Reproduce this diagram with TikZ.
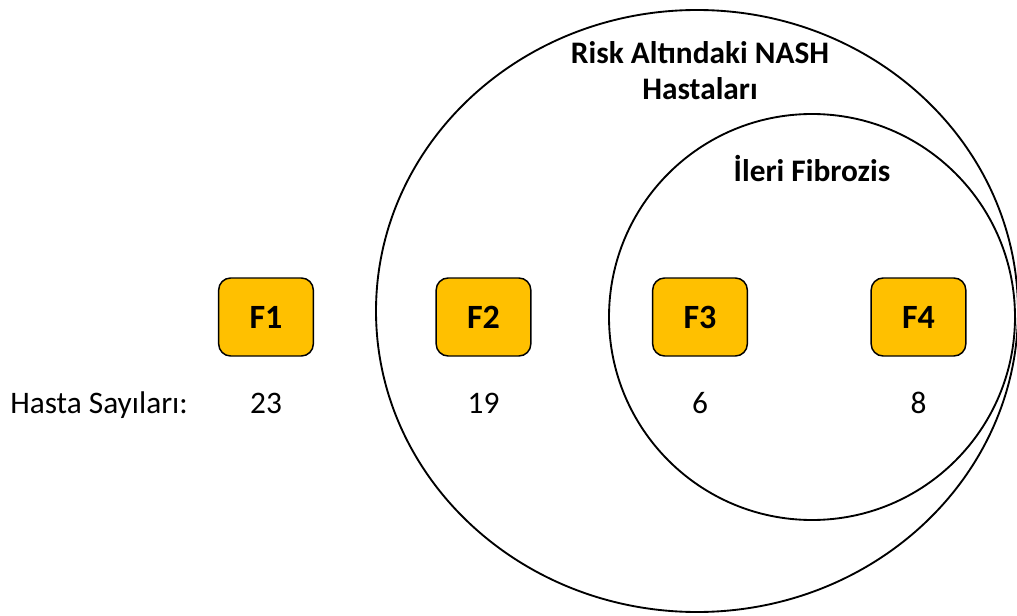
\documentclass[tikz,border=0pt]{standalone}
\usepackage{fontspec}
\setmainfont{Carlito}
\definecolor{fbox}{HTML}{FFC000}
\begin{document}
\begin{tikzpicture}[x=0.75pt,y=0.75pt,
  stagebox/.style={draw=black,line width=1.1pt,fill=fbox,rounded corners=9pt,
    minimum width=71pt,minimum height=58.5pt,inner sep=0pt,
    font=\fontsize{25.5}{30}\selectfont\bfseries},
  num/.style={anchor=base,inner sep=0pt,font=\fontsize{23.5}{28}\selectfont},
  ttl/.style={anchor=base,inner sep=0pt,font=\fontsize{23.5}{28}\selectfont\bfseries},
  ring/.style={draw=black,line width=1.4pt}]
\useasboundingbox (0,0) rectangle (1017,615);
% sets
\draw[ring] (697,304) ellipse [x radius=321, y radius=301];
\draw[ring] (812,298) circle [radius=203];
% titles
\node[ttl] (t1) at (700,551.7) {Risk Altındaki NASH};
\node[ttl] (t2) at (700,515) {Hastaları};
\node[ttl] (t3) at (812,433.3) {İleri Fibrozis};
% stages
\node[stagebox] (f1) at (266,298) {F1};
\node[stagebox] (f2) at (483.5,298) {F2};
\node[stagebox] (f3) at (700,298) {F3};
\node[stagebox] (f4) at (918.5,298) {F4};
% counts
\node[num,anchor=base west] (hs) at (10,202) {Hasta Sayıları:};
\node[num] (n1) at (266,202) {23};
\node[num] (n2) at (483.5,202) {19};
\node[num] (n3) at (700,202) {6};
\node[num] (n4) at (918.5,202) {8};
\end{tikzpicture}
\end{document}
